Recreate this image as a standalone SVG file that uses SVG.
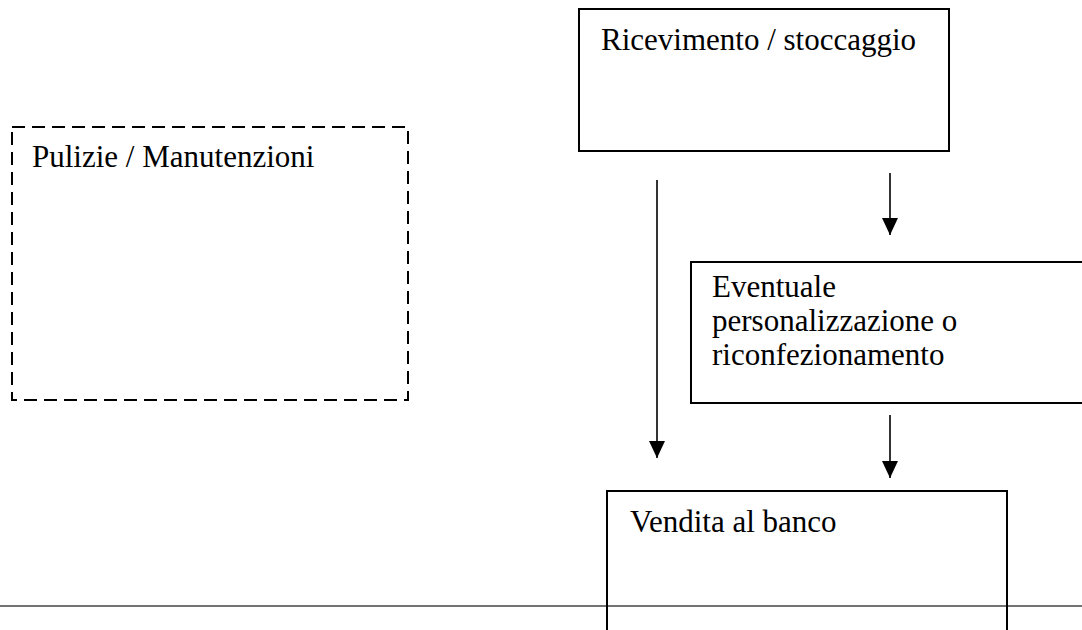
<svg xmlns="http://www.w3.org/2000/svg" width="1082" height="630" viewBox="0 0 1082 630">
  <style>
    .box { fill: none; stroke: #000; stroke-width: 2; }
    .dash { fill: none; stroke: #000; stroke-width: 2; stroke-dasharray: 13 7; }
    .lbl { font-family: "Liberation Serif", "Times New Roman", serif; font-size: 31px; fill: #000; }
    .conn { stroke: #000; stroke-width: 1.6; fill: none; }
    .rule { stroke: #444; stroke-width: 1.5; fill: none; }
  </style>
  <defs>
    <marker id="ah" markerUnits="userSpaceOnUse" markerWidth="17" markerHeight="16" refX="17" refY="8" orient="auto" viewBox="0 0 17 16">
      <path d="M0,0 L17,8 L0,16 Z" fill="#000"/>
    </marker>
  </defs>
  <rect width="1082" height="630" fill="#fff"/>

  <line class="rule" x1="0" y1="606" x2="1082" y2="606"/>

  <g id="ricevimento">
    <rect class="box" x="579" y="9" width="370" height="142"/>
    <text class="lbl" x="601" y="50">Ricevimento / stoccaggio</text>
  </g>

  <g id="pulizie">
    <rect class="dash" x="12" y="127" width="396" height="273"/>
    <text class="lbl" x="32" y="167">Pulizie / Manutenzioni</text>
  </g>

  <g id="eventuale">
    <rect class="box" x="691" y="262" width="420" height="141"/>
    <text class="lbl" x="712" y="297">Eventuale</text>
    <text class="lbl" x="712" y="331">personalizzazione o</text>
    <text class="lbl" x="712" y="365">riconfezionamento</text>
  </g>

  <g id="vendita">
    <rect class="box" x="607" y="491" width="400" height="160"/>
    <text class="lbl" x="630" y="532">Vendita al banco</text>
  </g>

  <g id="connectors">
    <line class="conn" x1="657" y1="180" x2="657" y2="458" marker-end="url(#ah)"/>
    <line class="conn" x1="890" y1="173" x2="890" y2="235" marker-end="url(#ah)"/>
    <line class="conn" x1="890" y1="415" x2="890" y2="478" marker-end="url(#ah)"/>
  </g>
</svg>
